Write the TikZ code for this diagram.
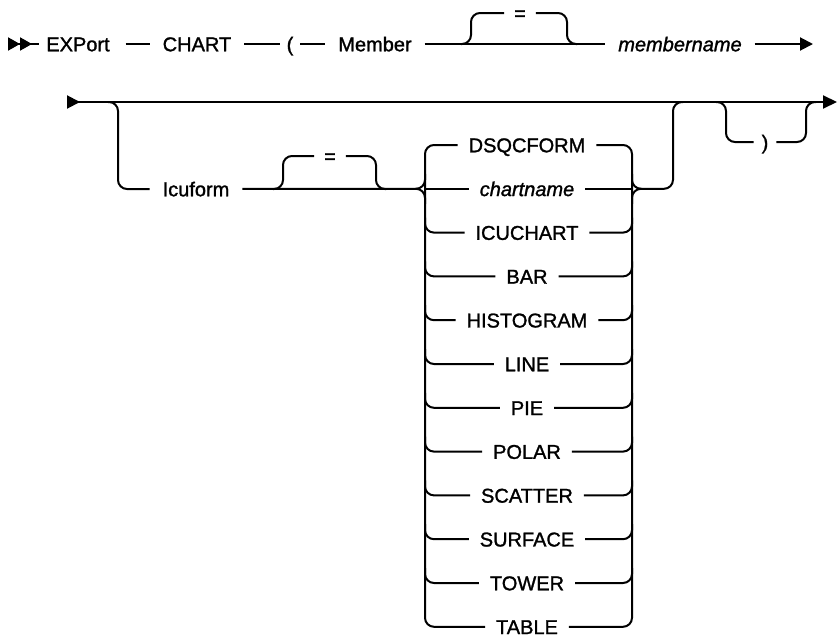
\documentclass[tikz,border=0pt]{standalone}
\usepackage{fontspec}
\setmainfont{Liberation Sans}[RawFeature={embolden=1.3}]
\usepackage{tikz}
\usetikzlibrary{arrows.meta}
\tikzstyle{rail}=[draw, line width=2pt, rounded corners=9pt, black]
\tikzstyle{lead}=[rail, {Triangle[reversed,length=12pt,width=13pt]Triangle[reversed,length=12pt,width=13pt]}-]
\tikzstyle{goon}=[rail, -{Triangle[length=13pt,width=13pt]}]
\tikzstyle{mainrail}=[rail, {Triangle[reversed,length=13pt,width=13pt]}-{Triangle[length=14pt,width=13pt]}]
\tikzstyle{word}=[font=\fontsize{20}{24}\selectfont, inner sep=0pt, text height=14.5pt, text depth=0pt, outer xsep=13pt]
\tikzstyle{var}=[word, font=\fontsize{20}{24}\selectfont\itshape]
\tikzstyle{sym}=[word, outer xsep=7pt]

\begin{document}
\begin{tikzpicture}[x=1pt, y=-1pt]
	\useasboundingbox (0,0) rectangle (837,637);

	% first line
	\coordinate (s_1) at (8,44);
	\node[word, outer xsep=7pt] (export) at (78,44) {EXPort};
	\node[word] (chart) at (197,44) {CHART};
	\node[sym] (lpar) at (290,44) {(};
	\node[word] (member) at (375,44) {Member};
	\node[word, outer xsep=10pt] (eq_1) at (520,13) {=};
	\node[var] (membername) at (680,44) {membername};
	\coordinate (b_1) at (471,44);
	\coordinate (b_2) at (567,44);
	\coordinate (e_1) at (813,44);

	\draw[lead] (s_1) -- (export);
	\draw[rail, shorten <=9pt] (export) -- (chart);
	\draw[rail] (chart) -- (lpar);
	\draw[rail] (lpar) -- (member);
	\draw[rail] (member) -- (membername);
	\draw[rail] ([xshift=-10pt]b_1) -- (b_1) -- (b_1 |- eq_1) -- (eq_1);
	\draw[rail] (eq_1) -- (b_2 |- eq_1) -- (b_2) -- ([xshift=10pt]b_2);
	\draw[goon] (membername) -- (e_1);

	% second line
	\coordinate (s_2) at (67,102);
	\coordinate (e_2) at (837,102);
	\draw[mainrail] (s_2) -- (e_2);

	\coordinate (g_1) at (118,102);
	\node[word] (icuform) at (196,189) {Icuform};
	\node[word, outer xsep=10pt] (eq_2) at (330,156) {=};
	\coordinate (b_3) at (283,189);
	\coordinate (b_4) at (376,189);

	\draw[rail] ([xshift=-10pt]g_1) -- (g_1) -- (g_1 |- icuform) -- (icuform);
	\draw[rail] ([xshift=-10pt]b_3) -- (b_3) -- (b_3 |- eq_2) -- (eq_2);
	\draw[rail] (eq_2) -- (b_4 |- eq_2) -- (b_4) -- ([xshift=10pt]b_4);

	\foreach \label [count=\i from 0] in {DSQCFORM, \textit{chartname}, ICUCHART, BAR, HISTOGRAM, LINE, PIE, POLAR, SCATTER, SURFACE, TOWER, TABLE}{
		\node[word, outer xsep=11pt] (o_\i) at (527, 145+43.8*\i) {\label};
		\coordinate (l_\i) at (425, 145+43.8*\i);
		\coordinate (r_\i) at (632, 145+43.8*\i);
	}

	\draw[rail] (icuform) -- ([xshift=-10pt]l_1);
	\draw[rail] (o_0) -- (l_0) -- (l_11) -- (o_11);
	\draw[rail] (o_0) -- (r_0) -- (r_11) -- (o_11);

	\foreach \i in {2,...,10}{
		\draw[rail] ([yshift=15pt]l_\i) -- (l_\i) -- (o_\i);
		\draw[rail] (o_\i) -- (r_\i) -- ([yshift=15pt]r_\i);
	}

	% braces round chartname
	\draw[rail] ([yshift=15pt]l_1) -- (l_1) -- ([xshift=-10pt]l_1);
	\draw[rail] ([yshift=-15pt]l_1) -- (l_1) -- ([xshift=-10pt]l_1);
	\draw[rail] (l_1) -- (o_1) -- (r_1);
	\draw[rail] ([yshift=15pt]r_1) -- (r_1) -- ([xshift=10pt]r_1);

	\coordinate (g_2) at (673,102);
	\draw[rail] ([yshift=-15pt]r_1) -- (r_1) -- (g_2 |- r_1) -- (g_2) -- ([xshift=10pt]g_2);

	% closing bracket
	\coordinate (g_3) at (726,102);
	\coordinate (g_4) at (806,102);
	\node[sym, outer xsep=8pt] (rpar) at (765,142) {)};
	\draw[rail] ([xshift=-10pt]g_3) -- (g_3) -- (g_3 |- rpar) -- (rpar);
	\draw[rail] (rpar) -- (g_4 |- rpar) -- (g_4) -- ([xshift=10pt]g_4);
\end{tikzpicture}
\end{document}
